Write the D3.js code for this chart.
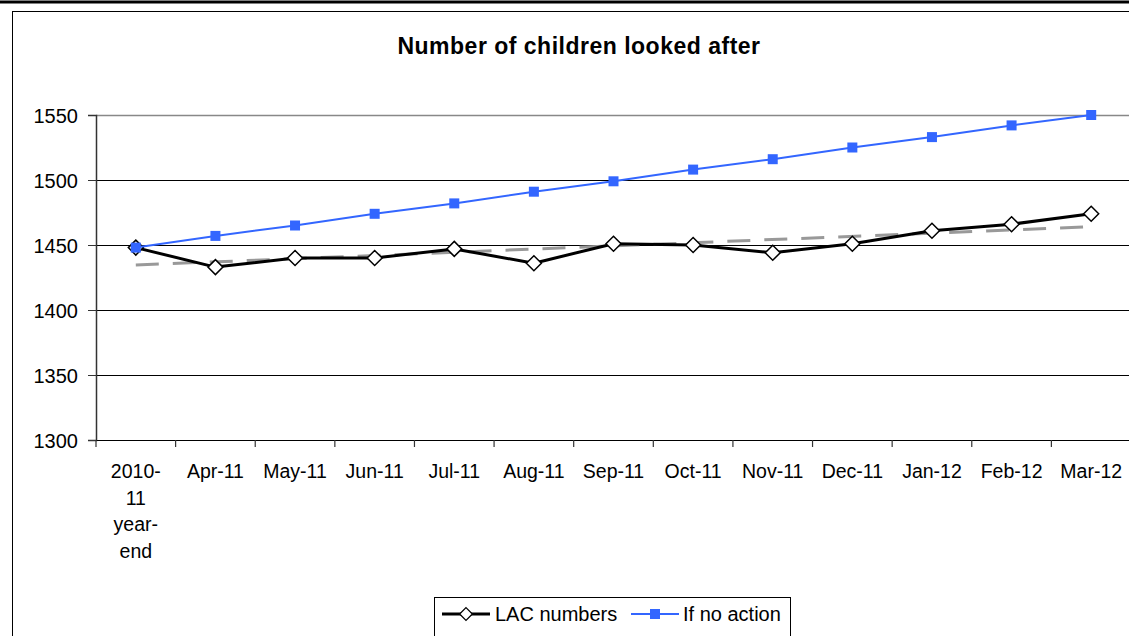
<html>
<script src="https://d3js.org/d3.v7.min.js"></script>
<style>
  body { margin: 0; background: #fff; }
  text { font-family: "Liberation Sans", Arial, sans-serif; fill: #000; }
</style>
<body>
<svg id="chart" width="1129" height="636"></svg>
<script>
var categories = ["2010-11 year-end", "Apr-11", "May-11", "Jun-11", "Jul-11", "Aug-11", "Sep-11",
                  "Oct-11", "Nov-11", "Dec-11", "Jan-12", "Feb-12", "Mar-12"];
var lacNumbers = [1448, 1433, 1440, 1440, 1447, 1436, 1451, 1450, 1444, 1451, 1461, 1466, 1474];
var noAction = [1448, 1457, 1465, 1474, 1482, 1491, 1499, 1508, 1516, 1525, 1533, 1542, 1550];
var yTicks = [1300, 1350, 1400, 1450, 1500, 1550];
var seriesNames = ["LAC numbers", "If no action"];

var svg = d3.select("#chart");
var plotLeft = 96, plotTop = 115, plotW = 1035, plotH = 325;
var fontFam = "Liberation Sans, Arial, sans-serif";

// outer frame
svg.append("line").attr("x1", 0).attr("x2", 1129).attr("y1", 2).attr("y2", 2)
  .attr("stroke", "#000").attr("stroke-width", 3);
svg.append("rect").attr("x", 12.5).attr("y", 11.5).attr("width", 1140).attr("height", 640)
  .attr("fill", "none").attr("stroke", "#000").attr("stroke-width", 1);

svg.append("text").attr("x", 579).attr("y", 54).attr("text-anchor", "middle")
  .style("font-size", "23px").style("font-weight", "bold").style("letter-spacing", "0.5px")
  .text("Number of children looked after");

var x = d3.scaleBand().domain(categories).range([0, plotW]);
var y = d3.scaleLinear().domain([1300, 1550]).range([plotH, 0]);

var g = svg.append("g").attr("transform", "translate(" + plotLeft + "," + plotTop + ")");

// gridlines
g.selectAll(".grid").data(yTicks.slice(1)).enter().append("line")
  .attr("x1", 0).attr("x2", plotW)
  .attr("y1", d => Math.round(y(d)) + 0.5).attr("y2", d => Math.round(y(d)) + 0.5)
  .attr("stroke", d => d == 1550 ? "#888" : "#000").attr("stroke-width", d => d == 1550 ? 1.5 : 1);

// y axis
var ya = g.append("g").call(d3.axisLeft(y).tickValues(yTicks).tickFormat(d3.format("d")).tickSize(8).tickPadding(10));
ya.select(".domain").attr("stroke", "#333").attr("stroke-width", 1.5);
ya.selectAll("line").attr("stroke", "#333");
ya.selectAll("text").attr("dy", "0.36em").style("font-size", "20px").style("font-family", fontFam);

// x axis
var xa = g.append("g").attr("transform", "translate(0," + plotH + ")")
  .call(d3.axisBottom(x).tickSize(0).tickPadding(24));
xa.select(".domain").attr("stroke", "#000").attr("stroke-width", 1.2);
xa.selectAll("text").style("font-size", "19.5px").style("font-family", fontFam)
  .each(function(d) {
    if (d.indexOf("year-end") >= 0) {
      var t = d3.select(this).text(null);
      ["2010-", "11", "year-", "end"].forEach(function(s, i) {
        t.append("tspan").attr("x", 0).attr("dy", i == 0 ? "0.71em" : "1.37em").text(s);
      });
    }
  });
g.selectAll(".xtick").data(categories).enter().append("line")
  .attr("x1", d => x(d)).attr("x2", d => x(d)).attr("y1", plotH).attr("y2", plotH + 7)
  .attr("stroke", "#333").attr("stroke-width", 1.2);

var cx = d => x(d) + x.bandwidth() / 2;

// linear trendline on LAC numbers (least squares, as the spreadsheet draws it)
var n = lacNumbers.length;
var mx = d3.mean(lacNumbers, (v, i) => i), my = d3.mean(lacNumbers);
var slope = d3.sum(lacNumbers, (v, i) => (i - mx) * (v - my)) / d3.sum(lacNumbers, (v, i) => (i - mx) * (i - mx));
var b = my - slope * mx;
g.append("line")
  .attr("x1", cx(categories[0])).attr("y1", y(b))
  .attr("x2", cx(categories[n - 1])).attr("y2", y(b + slope * (n - 1)))
  .attr("stroke", "#999").attr("stroke-width", 3).attr("stroke-dasharray", "23,14");

var line = d3.line().x((v, i) => cx(categories[i])).y(v => y(v));

// LAC numbers
g.append("path").datum(lacNumbers).attr("d", line).attr("fill", "none")
  .attr("stroke", "#000").attr("stroke-width", 3).attr("stroke-linejoin", "round");
var diamond = "M0,-7.5L7.5,0L0,7.5L-7.5,0Z";
g.selectAll(".lac").data(lacNumbers).enter().append("path")
  .attr("d", diamond).attr("transform", (v, i) => "translate(" + cx(categories[i]) + "," + y(v) + ")")
  .attr("fill", "#fff").attr("stroke", "#000").attr("stroke-width", 1.5);

// If no action
g.append("path").datum(noAction).attr("d", line).attr("fill", "none")
  .attr("stroke", "#3366ff").attr("stroke-width", 2);
g.selectAll(".na").data(noAction).enter().append("rect")
  .attr("x", (v, i) => cx(categories[i]) - 5).attr("y", v => y(v) - 5)
  .attr("width", 10).attr("height", 10).attr("fill", "#3366ff");

// legend
var lg = svg.append("g").attr("transform", "translate(434,597)");
lg.append("rect").attr("x", 0.5).attr("y", 0.5).attr("width", 356).attr("height", 50)
  .attr("fill", "#fff").attr("stroke", "#000");
lg.append("line").attr("x1", 8).attr("x2", 56).attr("y1", 17).attr("y2", 17).attr("stroke", "#000").attr("stroke-width", 3);
lg.append("path").attr("d", diamond).attr("transform", "translate(32,17) scale(0.85)")
  .attr("fill", "#fff").attr("stroke", "#000").attr("stroke-width", 1.5);
lg.append("text").attr("x", 61).attr("y", 24).style("font-size", "20px").text(seriesNames[0]);
lg.append("line").attr("x1", 197).attr("x2", 245).attr("y1", 17).attr("y2", 17).attr("stroke", "#3366ff").attr("stroke-width", 2);
lg.append("rect").attr("x", 216).attr("y", 12).attr("width", 10).attr("height", 10).attr("fill", "#3366ff");
lg.append("text").attr("x", 249).attr("y", 24).style("font-size", "20px").text(seriesNames[1]);
</script>
</body>
</html>
